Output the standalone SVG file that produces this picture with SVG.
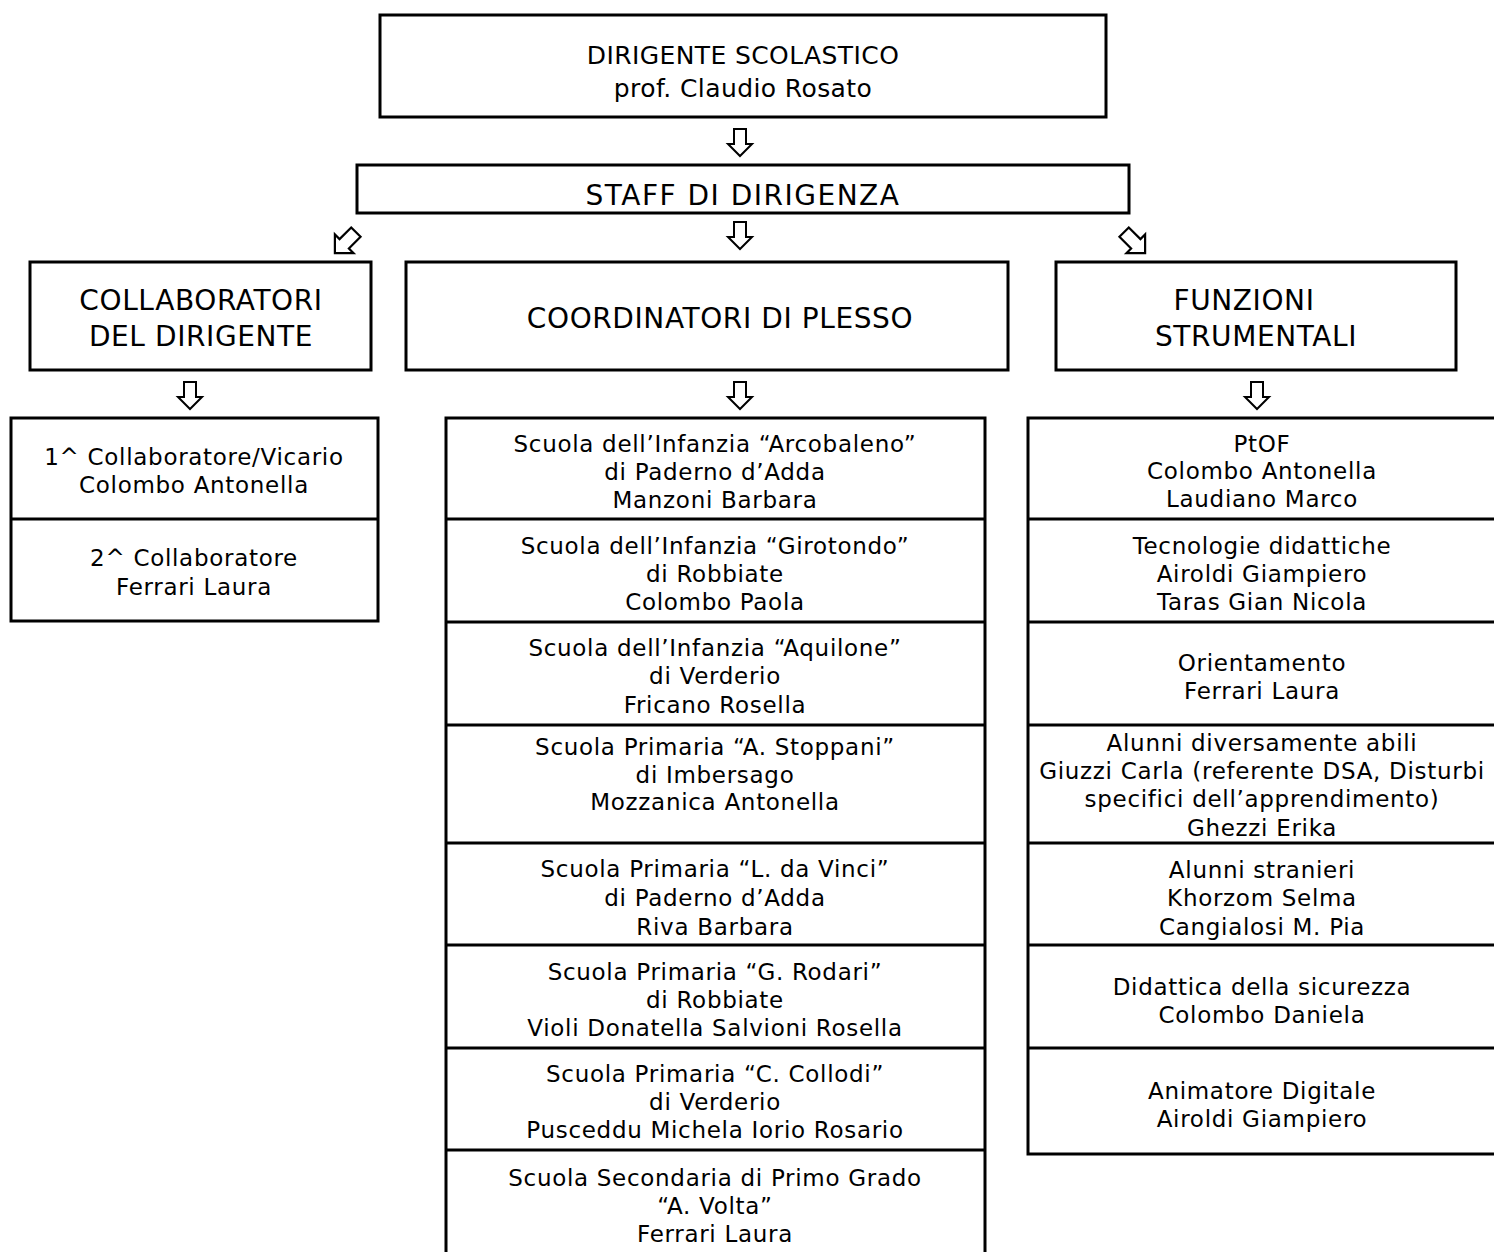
<svg xmlns="http://www.w3.org/2000/svg" width="1494" height="1252" viewBox="0 0 1494 1252">
<style>
.box{fill:#fff;stroke:#000;stroke-width:3}
.div{stroke:#000;stroke-width:3}
.arr{fill:#fff;stroke:#000;stroke-width:2;stroke-linejoin:miter}
text{font-family:"DejaVu Sans",Verdana,sans-serif;fill:#000;text-anchor:middle}
.top{font-size:25px;letter-spacing:0.4px}
.h{font-size:28px;letter-spacing:0.6px}
.st{font-size:28px;letter-spacing:1.5px}
.t{font-size:23px;letter-spacing:0.7px}
</style>
<defs>
<polygon id="dn" class="arr" points="-6,-14 6,-14 6,1 12,1 0,13 -12,1 -6,1"/>
</defs>
<rect width="1494" height="1252" fill="#fff"/>
<g id="connectors">
<use href="#dn" x="740" y="143"/>
<use href="#dn" transform="translate(345,243) rotate(45) scale(1.1)"/>
<use href="#dn" x="740" y="236"/>
<use href="#dn" transform="translate(1135,243) rotate(-45) scale(1.1)"/>
<use href="#dn" x="190" y="396"/>
<use href="#dn" x="740" y="396"/>
<use href="#dn" x="1257" y="396"/>
</g>
<g id="dirigente">
<rect class="box" x="380" y="15" width="726" height="102"/>
<text class="top" x="743" y="64">DIRIGENTE SCOLASTICO</text>
<text class="top" x="743" y="97">prof. Claudio Rosato</text>
</g>
<g id="staff">
<rect class="box" x="357" y="165" width="772" height="48"/>
<text class="st" x="743" y="205">STAFF DI DIRIGENZA</text>
</g>
<g id="collaboratori">
<rect class="box" x="30" y="262" width="341" height="108"/>
<text class="h" x="201" y="310">COLLABORATORI</text>
<text class="h" x="201" y="346">DEL DIRIGENTE</text>
</g>
<g id="coordinatori">
<rect class="box" x="406" y="262" width="602" height="108"/>
<text class="h" x="720" y="328">COORDINATORI DI PLESSO</text>
</g>
<g id="funzioni">
<rect class="box" x="1056" y="262" width="400" height="108"/>
<text class="h" x="1244" y="310">FUNZIONI</text>
<text class="h" x="1256" y="346">STRUMENTALI</text>
</g>
<g id="lista-collaboratori">
<rect class="box" x="11" y="418" width="367" height="203"/>
<line class="div" x1="11" y1="519" x2="378" y2="519"/>
<text class="t" x="194" y="465">1^ Collaboratore/Vicario</text>
<text class="t" x="194" y="493">Colombo Antonella</text>
<text class="t" x="194" y="566">2^ Collaboratore</text>
<text class="t" x="194" y="595">Ferrari Laura</text>
</g>
<g id="lista-plessi">
<rect class="box" x="446" y="418" width="539" height="840"/>
<line class="div" x1="446" y1="519" x2="985" y2="519"/>
<line class="div" x1="446" y1="622" x2="985" y2="622"/>
<line class="div" x1="446" y1="725" x2="985" y2="725"/>
<line class="div" x1="446" y1="843" x2="985" y2="843"/>
<line class="div" x1="446" y1="945" x2="985" y2="945"/>
<line class="div" x1="446" y1="1048" x2="985" y2="1048"/>
<line class="div" x1="446" y1="1150" x2="985" y2="1150"/>
<text class="t" x="715" y="452">Scuola dell’Infanzia “Arcobaleno”</text>
<text class="t" x="715" y="480">di Paderno d’Adda</text>
<text class="t" x="715" y="508">Manzoni Barbara</text>
<text class="t" x="715" y="554">Scuola dell’Infanzia “Girotondo”</text>
<text class="t" x="715" y="582">di Robbiate</text>
<text class="t" x="715" y="610">Colombo Paola</text>
<text class="t" x="715" y="656">Scuola dell’Infanzia “Aquilone”</text>
<text class="t" x="715" y="684">di Verderio</text>
<text class="t" x="715" y="713">Fricano Rosella</text>
<text class="t" x="715" y="755">Scuola Primaria “A. Stoppani”</text>
<text class="t" x="715" y="783">di Imbersago</text>
<text class="t" x="715" y="810">Mozzanica Antonella</text>
<text class="t" x="715" y="877">Scuola Primaria “L. da Vinci”</text>
<text class="t" x="715" y="906">di Paderno d’Adda</text>
<text class="t" x="715" y="935">Riva Barbara</text>
<text class="t" x="715" y="980">Scuola Primaria “G. Rodari”</text>
<text class="t" x="715" y="1008">di Robbiate</text>
<text class="t" x="715" y="1036">Violi Donatella Salvioni Rosella</text>
<text class="t" x="715" y="1082">Scuola Primaria “C. Collodi”</text>
<text class="t" x="715" y="1110">di Verderio</text>
<text class="t" x="715" y="1138">Pusceddu Michela Iorio Rosario</text>
<text class="t" x="715" y="1186">Scuola Secondaria di Primo Grado</text>
<text class="t" x="715" y="1214">“A. Volta”</text>
<text class="t" x="715" y="1242">Ferrari Laura</text>
</g>
<g id="lista-funzioni">
<rect class="box" x="1028" y="418" width="480" height="736"/>
<line class="div" x1="1028" y1="519" x2="1494" y2="519"/>
<line class="div" x1="1028" y1="622" x2="1494" y2="622"/>
<line class="div" x1="1028" y1="725" x2="1494" y2="725"/>
<line class="div" x1="1028" y1="843" x2="1494" y2="843"/>
<line class="div" x1="1028" y1="945" x2="1494" y2="945"/>
<line class="div" x1="1028" y1="1048" x2="1494" y2="1048"/>
<text class="t" x="1262" y="452">PtOF</text>
<text class="t" x="1262" y="479">Colombo Antonella</text>
<text class="t" x="1262" y="507">Laudiano Marco</text>
<text class="t" x="1262" y="554">Tecnologie didattiche</text>
<text class="t" x="1262" y="582">Airoldi Giampiero</text>
<text class="t" x="1262" y="610">Taras Gian Nicola</text>
<text class="t" x="1262" y="671">Orientamento</text>
<text class="t" x="1262" y="699">Ferrari Laura</text>
<text class="t" x="1262" y="751">Alunni diversamente abili</text>
<text class="t" x="1262" y="779">Giuzzi Carla (referente DSA, Disturbi</text>
<text class="t" x="1262" y="807">specifici dell’apprendimento)</text>
<text class="t" x="1262" y="836">Ghezzi Erika</text>
<text class="t" x="1262" y="878">Alunni stranieri</text>
<text class="t" x="1262" y="906">Khorzom Selma</text>
<text class="t" x="1262" y="935">Cangialosi M. Pia</text>
<text class="t" x="1262" y="995">Didattica della sicurezza</text>
<text class="t" x="1262" y="1023">Colombo Daniela</text>
<text class="t" x="1262" y="1099">Animatore Digitale</text>
<text class="t" x="1262" y="1127">Airoldi Giampiero</text>
</g>
</svg>
